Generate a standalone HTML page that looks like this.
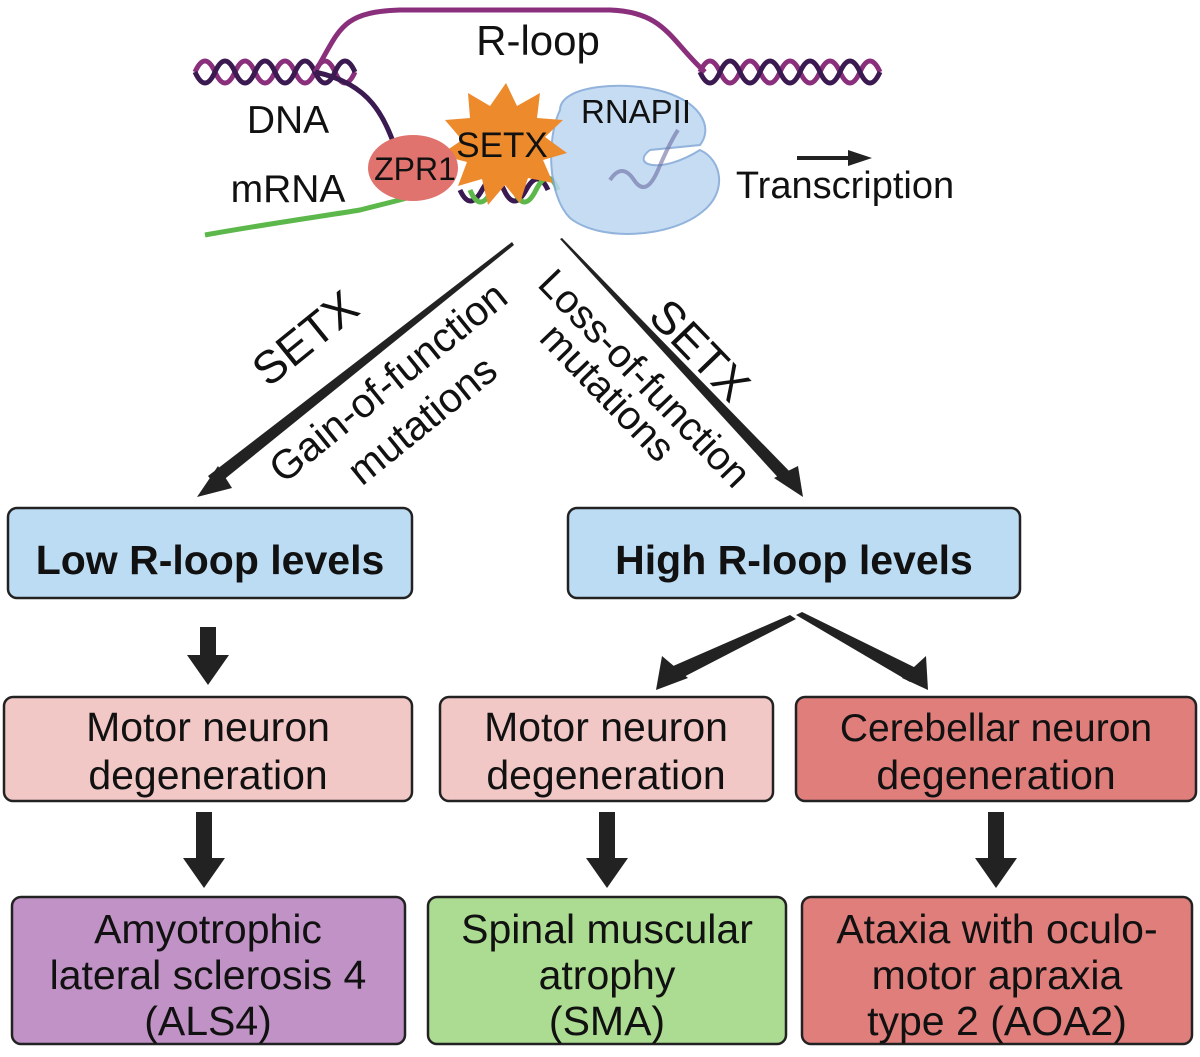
<!DOCTYPE html>
<html><head><meta charset="utf-8"><style>
html,body{margin:0;padding:0;background:#fff;}
svg{display:block;font-family:"Liberation Sans",Arial,sans-serif;}
</style></head><body>
<svg width="1200" height="1057" viewBox="0 0 1200 1057" xmlns="http://www.w3.org/2000/svg">
<!-- DNA helices -->
<g fill="none" stroke-width="5">
<path d="M195,72 q10,-22 20,0 t20,0 t20,0 t20,0 t20,0 t20,0 t20,0 t20,0" stroke="#8a2f7c"/>
<path d="M195,72 q10,22 20,0 t20,0 t20,0 t20,0 t20,0 t20,0 t20,0 t20,0" stroke="#3a1a50"/>
<path d="M700,72 q10,-22 20,0 t20,0 t20,0 t20,0 t20,0 t20,0 t20,0 t20,0 t20,0" stroke="#8a2f7c"/>
<path d="M700,72 q10,22 20,0 t20,0 t20,0 t20,0 t20,0 t20,0 t20,0 t20,0 t20,0" stroke="#3a1a50"/>
<path d="M315,72 C340,30 340,12 400,10 L610,10 C665,12 670,40 705,72" stroke="#8a2f7c"/>
<path d="M315,72 C375,85 385,120 400,160" stroke="#3a1a50"/>
<path d="M205,235 C260,225 330,215 360,210 C400,200 420,195 430,190" stroke="#5cb84a"/>
<path d="M460,190 q10,22 22,0 t22,0 t22,0 t22,0" stroke="#3a1a50"/>
<path d="M470,190 q10,24 22,0 t22,0 t22,0 t22,0" stroke="#5cb84a"/>
</g>
<!-- RNAPII -->
<path d="M560,110 C560,85 625,80 665,92 C705,105 712,130 700,145 L650,150 C630,165 660,175 700,150 C722,160 728,192 702,212 C670,238 600,242 570,218 C548,196 546,140 560,110 z" fill="#bcd6f2" stroke="#7fa6d6" stroke-width="2" opacity="0.85"/>
<path d="M610,180 q12,-18 24,0 t24,-10 t20,-40" fill="none" stroke="#6a6aa0" stroke-width="4" opacity="0.6"/>
<!-- SETX star -->
<polygon points="506,83 517,106 540,93 537,118 563,120 545,137 567,153 543,160 553,183 528,178 520,203 505,185 488,205 482,179 458,186 467,162 440,155 462,140 445,120 470,118 468,93 490,106" fill="#ec8a2c"/>
<ellipse cx="413" cy="168" rx="45" ry="33" fill="#e0736e"/>
<text x="415" y="180" font-size="32" text-anchor="middle" fill="#111">ZPR1</text>
<text x="502" y="157" font-size="35" text-anchor="middle" fill="#111">SETX</text>
<text x="538" y="55" font-size="42" text-anchor="middle" fill="#111">R-loop</text>
<text x="288" y="133" font-size="39" text-anchor="middle" fill="#111">DNA</text>
<text x="636" y="123" font-size="33" text-anchor="middle" fill="#111">RNAPII</text>
<text x="288" y="202" font-size="39" text-anchor="middle" fill="#111">mRNA</text>
<text x="845" y="198" font-size="38" text-anchor="middle" fill="#111">Transcription</text>
<path d="M797,158 L850,158" stroke="#222" stroke-width="4"/>
<polygon points="848,150 872,158 848,166" fill="#222"/>
<!-- Diagonal tapering arrows -->
<polygon points="512,242 514,245 216,486 208,476" fill="#222"/>
<polygon points="197,497 218,466 232,488" fill="#222"/>
<polygon points="560,239 562,238 794,476 784,484" fill="#222"/>
<polygon points="803,497 774,478 798,466" fill="#222"/>
<g fill="#111">
<text transform="translate(305,338) rotate(-39)" font-size="46" text-anchor="middle" dy="16">SETX</text>
<text transform="translate(388,382) rotate(-39)" font-size="41" text-anchor="middle" dy="14">Gain-of-function</text>
<text transform="translate(422,420) rotate(-39)" font-size="41" text-anchor="middle" dy="14">mutations</text>
<text transform="translate(700,350) rotate(46)" font-size="46" text-anchor="middle" dy="16">SETX</text>
<text transform="translate(645,378) rotate(46)" font-size="40" text-anchor="middle" dy="14">Loss-of-function</text>
<text transform="translate(608,392) rotate(46)" font-size="40" text-anchor="middle" dy="14">mutations</text>
</g>
<!-- Boxes -->
<g stroke="#222" stroke-width="2.5">
<rect x="8" y="508" width="404" height="90" rx="9" fill="#bcdcf4"/>
<rect x="568" y="508" width="452" height="90" rx="9" fill="#bcdcf4"/>
<rect x="4" y="697" width="408" height="104" rx="9" fill="#f2c8c6"/>
<rect x="440" y="697" width="333" height="104" rx="9" fill="#f2c8c6"/>
<rect x="796" y="697" width="400" height="104" rx="9" fill="#e07e7c"/>
<rect x="12" y="897" width="393" height="147" rx="9" fill="#c092c6"/>
<rect x="428" y="897" width="358" height="147" rx="9" fill="#abdc92"/>
<rect x="802" y="897" width="390" height="147" rx="9" fill="#e07e7c"/>
</g>
<g fill="#111" font-size="41" text-anchor="middle">
<text x="210" y="574" font-weight="bold" font-size="41">Low R-loop levels</text>
<text x="794" y="574" font-weight="bold" font-size="41">High R-loop levels</text>
<text x="208" y="741">Motor neuron</text><text x="208" y="789">degeneration</text>
<text x="606" y="741">Motor neuron</text><text x="606" y="789">degeneration</text>
<text x="996" y="741" font-size="39">Cerebellar neuron</text><text x="996" y="789">degeneration</text>
<text x="208" y="943">Amyotrophic</text><text x="208" y="989">lateral sclerosis 4</text><text x="208" y="1035">(ALS4)</text>
<text x="607" y="943">Spinal muscular</text><text x="607" y="989">atrophy</text><text x="607" y="1035">(SMA)</text>
<text x="997" y="943">Ataxia with oculo-</text><text x="997" y="989">motor apraxia</text><text x="997" y="1035">type 2 (AOA2)</text>
</g>
<!-- Vertical arrows -->
<g fill="#222">
<rect x="200" y="627" width="16" height="30"/><polygon points="187,655 229,655 208,685"/>
<rect x="196" y="812" width="16" height="48"/><polygon points="183,858 225,858 204,888"/>
<rect x="599" y="812" width="16" height="48"/><polygon points="586,858 628,858 607,888"/>
<rect x="988" y="812" width="16" height="48"/><polygon points="975,858 1017,858 996,888"/>
<!-- branching arrows from High box -->
<polygon points="790,615 796,619 674,682 664,670"/>
<polygon points="656,690 662,656 688,678"/>
<polygon points="796,615 802,612 920,670 910,682"/>
<polygon points="928,690 902,678 926,656"/>
</g>
</svg>
</body></html>
